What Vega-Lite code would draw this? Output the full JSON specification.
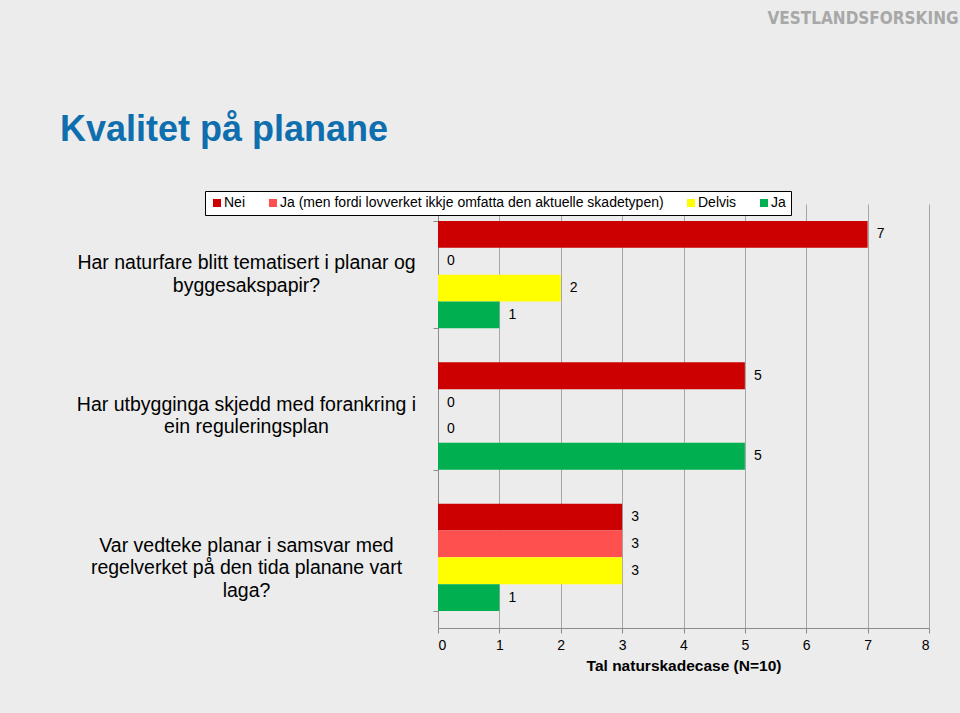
{
  "$schema": "https://vega.github.io/schema/vega-lite/v6.json",
  "width": 491,
  "height": 424,
  "autosize": {"type": "none"},
  "padding": {"left": 438, "top": 204, "right": 31, "bottom": 85},
  "background": "#ececec",
  "title": {
    "text": "Kvalitet på planane",
    "anchor": "start",
    "frame": "group",
    "dx": -378,
    "dy": 172,
    "font": "Liberation Sans",
    "fontSize": 36,
    "fontWeight": "bold",
    "color": "#0f6fae",
    "baseline": "alphabetic"
  },
  "data": {
    "values": [
      {"sporsmal": "Har naturfare blitt tematisert i planar og byggesakspapir?", "svar": "Nei", "antal": 7},
      {"sporsmal": "Har naturfare blitt tematisert i planar og byggesakspapir?", "svar": "Ja (men fordi lovverket ikkje omfatta den aktuelle skadetypen)", "antal": 0},
      {"sporsmal": "Har naturfare blitt tematisert i planar og byggesakspapir?", "svar": "Delvis", "antal": 2},
      {"sporsmal": "Har naturfare blitt tematisert i planar og byggesakspapir?", "svar": "Ja", "antal": 1},
      {"sporsmal": "Har utbygginga skjedd med forankring i ein reguleringsplan", "svar": "Nei", "antal": 5},
      {"sporsmal": "Har utbygginga skjedd med forankring i ein reguleringsplan", "svar": "Ja (men fordi lovverket ikkje omfatta den aktuelle skadetypen)", "antal": 0},
      {"sporsmal": "Har utbygginga skjedd med forankring i ein reguleringsplan", "svar": "Delvis", "antal": 0},
      {"sporsmal": "Har utbygginga skjedd med forankring i ein reguleringsplan", "svar": "Ja", "antal": 5},
      {"sporsmal": "Var vedteke planar i samsvar med regelverket på den tida planane vart laga?", "svar": "Nei", "antal": 3},
      {"sporsmal": "Var vedteke planar i samsvar med regelverket på den tida planane vart laga?", "svar": "Ja (men fordi lovverket ikkje omfatta den aktuelle skadetypen)", "antal": 3},
      {"sporsmal": "Var vedteke planar i samsvar med regelverket på den tida planane vart laga?", "svar": "Delvis", "antal": 3},
      {"sporsmal": "Var vedteke planar i samsvar med regelverket på den tida planane vart laga?", "svar": "Ja", "antal": 1}
    ]
  },
  "encoding": {
    "y": {
      "field": "sporsmal",
      "type": "nominal",
      "sort": null,
      "scale": {"paddingInner": 0.24, "paddingOuter": 0.12},
      "axis": {
        "title": "VESTLANDSFORSKING",
        "titleAngle": 0,
        "titleX": 520,
        "titleY": -181,
        "titleAlign": "right",
        "titleBaseline": "alphabetic",
        "titleFont": "Liberation Sans Narrow, DejaVu Sans Condensed, sans-serif",
        "titleFontSize": 17,
        "titleFontWeight": "bold",
        "titleColor": "#a8a8a8",
        "labelExpr": "datum.label == 'Har naturfare blitt tematisert i planar og byggesakspapir?' ? ['Har naturfare blitt tematisert i planar og', 'byggesakspapir?'] : datum.label == 'Har utbygginga skjedd med forankring i ein reguleringsplan' ? ['Har utbygginga skjedd med forankring i', 'ein reguleringsplan'] : datum.label == 'Var vedteke planar i samsvar med regelverket på den tida planane vart laga?' ? ['Var vedteke planar i samsvar med', 'regelverket på den tida planane vart', 'laga?'] : ''",
        "labelFont": "Liberation Sans",
        "labelFontSize": 19.5,
        "labelLineHeight": 22.5,
        "labelAlign": "center",
        "labelBaseline": "line-bottom",
        "labelPadding": 187,
        "labelLimit": 0,
        "labelColor": "#000000",
        "tickBand": "extent",
        "tickSize": 5,
        "tickColor": "#8c8c8c",
        "domainColor": "#8c8c8c",
        "grid": false
      }
    },
    "yOffset": {
      "field": "svar",
      "type": "nominal",
      "sort": ["Nei", "Ja (men fordi lovverket ikkje omfatta den aktuelle skadetypen)", "Delvis", "Ja"]
    },
    "x": {
      "field": "antal",
      "type": "quantitative",
      "scale": {"domain": [0, 8], "nice": false},
      "axis": {
        "values": [0, 1, 2, 3, 4, 5, 6, 7, 8],
        "title": "Tal naturskadecase (N=10)",
        "titleFont": "Liberation Sans",
        "titleFontSize": 15.5,
        "titleFontWeight": "bold",
        "titleColor": "#000000",
        "titlePadding": 6,
        "labelFont": "Liberation Sans",
        "labelFontSize": 14,
        "labelColor": "#000000",
        "labelPadding": 5,
        "tickSize": 5,
        "tickColor": "#8c8c8c",
        "domainColor": "#8c8c8c",
        "grid": true,
        "gridColor": "#a6a6a6",
        "gridWidth": 1
      }
    }
  },
  "layer": [
    {
      "mark": {"type": "bar"},
      "encoding": {
        "color": {
          "field": "svar",
          "type": "nominal",
          "scale": {
            "domain": ["Nei", "Ja (men fordi lovverket ikkje omfatta den aktuelle skadetypen)", "Delvis", "Ja"],
            "range": ["#cc0000", "#ff5050", "#ffff00", "#00b050"]
          },
          "legend": {
            "title": null,
            "orient": "none",
            "direction": "horizontal",
            "legendX": -233,
            "legendY": -13,
            "fillColor": "#ffffff",
            "strokeColor": "#000000",
            "padding": 5,
            "symbolType": "square",
            "symbolSize": 64,
            "symbolStrokeWidth": 0,
            "symbolOpacity": 1,
            "labelFont": "Liberation Sans",
            "labelFontSize": 14,
            "labelColor": "#000000",
            "labelOffset": 0,
            "columnPadding": 20,
            "labelLimit": 0
          }
        }
      }
    },
    {
      "mark": {"type": "text", "align": "left", "baseline": "middle", "dx": 9, "font": "Liberation Sans", "fontSize": 14, "color": "#000000"},
      "encoding": {
        "text": {"field": "antal", "type": "quantitative"}
      }
    }
  ],
  "config": {
    "view": {"stroke": null}
  }
}
